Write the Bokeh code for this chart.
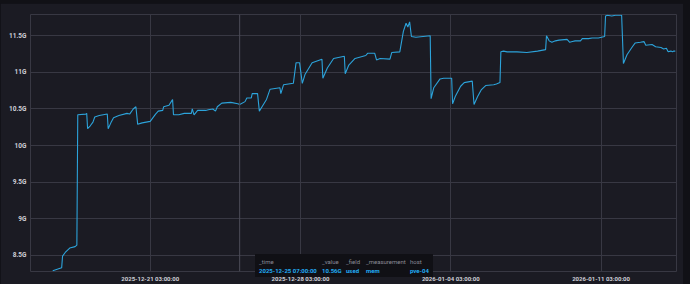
import pandas as pd
from bokeh.plotting import figure
from bokeh.models import (FixedTicker, CustomJSTickFormatter, DatetimeTickFormatter,
                          Span, Range1d, Div)
from bokeh.layouts import column
from bokeh.embed import file_html
from bokeh.resources import INLINE

times = [
    "2025-12-16 14:00", "2025-12-16 19:00", "2025-12-17 00:00", "2025-12-17 01:00", "2025-12-17 04:00",
    "2025-12-17 09:00", "2025-12-17 15:00", "2025-12-17 17:00", "2025-12-17 18:00", "2025-12-18 03:00",
    "2025-12-18 04:00", "2025-12-18 05:00", "2025-12-18 08:00", "2025-12-18 11:00", "2025-12-18 13:00",
    "2025-12-18 18:00", "2025-12-19 03:00", "2025-12-19 04:00", "2025-12-19 07:00", "2025-12-19 10:00",
    "2025-12-19 16:00", "2025-12-20 01:00", "2025-12-20 04:00", "2025-12-20 08:00", "2025-12-20 11:00",
    "2025-12-20 13:00", "2025-12-20 18:00", "2025-12-21 03:00", "2025-12-21 09:00", "2025-12-21 12:00",
    "2025-12-21 17:00", "2025-12-21 18:00", "2025-12-22 00:00", "2025-12-22 02:00", "2025-12-22 04:00",
    "2025-12-22 05:00", "2025-12-22 11:00", "2025-12-22 17:00", "2025-12-23 01:00", "2025-12-23 02:00",
    "2025-12-23 04:00", "2025-12-23 08:00", "2025-12-23 17:00", "2025-12-23 20:00", "2025-12-24 01:00",
    "2025-12-24 04:00", "2025-12-24 06:00", "2025-12-24 11:00", "2025-12-24 21:00", "2025-12-25 05:00",
    "2025-12-25 07:00", "2025-12-25 13:00", "2025-12-25 15:00", "2025-12-25 20:00", "2025-12-25 21:00",
    "2025-12-26 03:00", "2025-12-26 05:00", "2025-12-26 08:00", "2025-12-26 13:00", "2025-12-26 17:00",
    "2025-12-27 04:00", "2025-12-27 05:00", "2025-12-27 08:00", "2025-12-27 19:00", "2025-12-27 22:00",
    "2025-12-28 02:00", "2025-12-28 05:00", "2025-12-28 08:00", "2025-12-28 16:00", "2025-12-29 03:00",
    "2025-12-29 04:00", "2025-12-29 09:00", "2025-12-29 16:00", "2025-12-30 04:00", "2025-12-30 05:00",
    "2025-12-30 09:00", "2025-12-30 16:00", "2025-12-31 04:00", "2025-12-31 06:00", "2025-12-31 14:00",
    "2025-12-31 16:00", "2025-12-31 20:00", "2026-01-01 07:00", "2026-01-01 09:00", "2026-01-01 18:00",
    "2026-01-01 22:00", "2026-01-02 01:00", "2026-01-02 03:00", "2026-01-02 05:00", "2026-01-02 07:00",
    "2026-01-02 12:00", "2026-01-03 04:00", "2026-01-03 05:00", "2026-01-03 08:00", "2026-01-03 15:00",
    "2026-01-03 19:00", "2026-01-04 04:00", "2026-01-04 05:00", "2026-01-04 08:00", "2026-01-04 14:00",
    "2026-01-04 18:00", "2026-01-05 03:00", "2026-01-05 05:00", "2026-01-05 09:00", "2026-01-05 13:00",
    "2026-01-05 18:00", "2026-01-06 03:00", "2026-01-06 06:00", "2026-01-06 10:00", "2026-01-06 11:00",
    "2026-01-06 14:00", "2026-01-06 18:00", "2026-01-07 05:00", "2026-01-07 16:00", "2026-01-08 04:00",
    "2026-01-08 13:00", "2026-01-08 14:00", "2026-01-08 17:00", "2026-01-08 20:00", "2026-01-09 00:00",
    "2026-01-09 04:00", "2026-01-09 13:00", "2026-01-09 16:00", "2026-01-09 19:00", "2026-01-09 22:00",
    "2026-01-10 04:00", "2026-01-10 06:00", "2026-01-10 13:00", "2026-01-10 17:00", "2026-01-11 00:00",
    "2026-01-11 07:00", "2026-01-11 08:00", "2026-01-11 10:00", "2026-01-11 15:00", "2026-01-11 19:00",
    "2026-01-12 02:00", "2026-01-12 04:00", "2026-01-12 08:00", "2026-01-12 14:00", "2026-01-12 17:00",
    "2026-01-12 23:00", "2026-01-13 03:00", "2026-01-13 05:00", "2026-01-13 12:00", "2026-01-13 16:00",
    "2026-01-13 22:00", "2026-01-14 01:00", "2026-01-14 04:00", "2026-01-14 06:00", "2026-01-14 09:00",
    "2026-01-14 11:00", "2026-01-14 12:00", "2026-01-14 14:00",
]
used_g = [
    8.29, 8.31, 8.33, 8.49, 8.54, 8.60, 8.62, 8.64, 10.42, 10.43,
    10.44, 10.23, 10.27, 10.32, 10.39, 10.41, 10.43, 10.23, 10.31, 10.38,
    10.41, 10.44, 10.43, 10.50, 10.53, 10.29, 10.31, 10.33, 10.43, 10.47,
    10.48, 10.53, 10.55, 10.59, 10.63, 10.42, 10.42, 10.44, 10.44, 10.50,
    10.42, 10.48, 10.48, 10.49, 10.50, 10.47, 10.53, 10.58, 10.59, 10.57,
    10.56, 10.60, 10.65, 10.65, 10.71, 10.71, 10.47, 10.53, 10.63, 10.77,
    10.79, 10.71, 10.83, 10.85, 11.13, 11.13, 10.85, 10.97, 11.13, 11.18,
    10.92, 11.06, 11.19, 11.22, 10.98, 11.10, 11.19, 11.23, 11.26, 11.26,
    11.17, 11.19, 11.18, 11.27, 11.28, 11.56, 11.67, 11.62, 11.69, 11.49,
    11.48, 11.50, 10.64, 10.79, 10.91, 10.92, 10.92, 10.57, 10.67, 10.81,
    10.86, 10.88, 10.56, 10.67, 10.76, 10.82, 10.83, 10.84, 10.86, 11.28,
    11.29, 11.28, 11.28, 11.27, 11.29, 11.31, 11.50, 11.43, 11.41, 11.43,
    11.44, 11.45, 11.41, 11.42, 11.43, 11.43, 11.46, 11.46, 11.47, 11.47,
    11.49, 11.77, 11.78, 11.77, 11.78, 11.78, 11.12, 11.24, 11.35, 11.40,
    11.41, 11.42, 11.37, 11.38, 11.35, 11.34, 11.32, 11.33, 11.28, 11.29,
    11.28, 11.29, 11.29,
]

x_tick_times = ["2025-12-21 03:00:00", "2025-12-28 03:00:00", "2026-01-04 03:00:00", "2026-01-11 03:00:00"]
y_ticks = [8.5, 9.0, 9.5, 10.0, 10.5, 11.0, 11.5]
x_start, x_end = "2025-12-15 13:10", "2026-01-14 15:20"
y_start, y_end = 8.28, 11.79

hover_time = "2025-12-25 07:00:00"
tooltip_headers = ["_time", "_value", "_field", "_measurement", "host"]
tooltip_values = ["2025-12-25 07:00:00", "10.56G", "used", "mem", "pve-04"]


def ms(s):
    return pd.Timestamp(s).value / 1e6


xs = pd.to_datetime(times)

PANEL = "#1b1b23"
GRID = "#383843"

p = figure(width=683, height=281, x_axis_type="datetime",
           x_range=Range1d(ms(x_start), ms(x_end)), y_range=Range1d(y_start, y_end),
           output_backend="svg", toolbar_location=None,
           min_border_left=30, min_border_right=7, min_border_top=11, min_border_bottom=9)
p.margin = (3, 7, 0, 0)
p.background_fill_color = PANEL
p.border_fill_color = PANEL
p.outline_line_color = GRID
p.outline_line_width = 1

p.line(x=xs, y=used_g, line_color="#2ca3da", line_width=1.1)

p.xaxis.ticker = FixedTicker(ticks=[ms(t) for t in x_tick_times])
p.xaxis.formatter = DatetimeTickFormatter(
    **{k: "%Y-%m-%d %H:%M:%S" for k in ["milliseconds", "seconds", "minsec", "minutes",
                                       "hourmin", "hours", "days", "months", "years"]})
p.yaxis.ticker = FixedTicker(ticks=y_ticks)
p.yaxis.formatter = CustomJSTickFormatter(code="return (Math.round(tick*10)/10).toString() + 'G'")

for ax in (p.xaxis[0], p.yaxis[0]):
    ax.axis_line_color = None
    ax.major_tick_line_color = None
    ax.minor_tick_line_color = None
    ax.major_tick_out = 0
    ax.major_tick_in = 0
    ax.minor_tick_out = 0
    ax.minor_tick_in = 0
    ax.major_label_text_color = "#d0d0d8"
    ax.major_label_text_font = "Roboto"
    ax.major_label_text_font_style = "bold"
p.xaxis.major_label_text_font_size = "6px"
p.yaxis.major_label_text_font_size = "6.5px"
p.xaxis.major_label_standoff = 3
p.yaxis.major_label_standoff = 4

p.xgrid.grid_line_color = GRID
p.ygrid.grid_line_color = GRID

p.add_layout(Span(location=ms(hover_time), dimension="height", line_color="#4c4c58", line_width=1))

# hover tooltip (static)
col_left = [4, 67, 91, 111, 155]
spans = []
for cx, h, v in zip(col_left, tooltip_headers, tooltip_values):
    spans.append(f'<span style="position:absolute;left:{cx}px;top:4px;color:#8a8a96;">{h}</span>')
    spans.append(f'<span style="position:absolute;left:{cx}px;top:13px;color:#22adf6;font-weight:bold;">{v}</span>')
tooltip_html = (
    '<div style="position:relative;width:178px;height:23px;background:#101015;'
    'font-family:Roboto;font-size:6px;line-height:7px;white-space:nowrap;">'
    + "".join(spans) + "</div>"
)
tooltip = Div(text=tooltip_html, width=178, height=23, margin=(0, 0, 0, 0),
              styles={"position": "absolute", "left": "255px", "top": "254px", "z-index": "10"})

layout = column(p, tooltip, width=690, height=284,
                styles={"background-color": "#111116", "position": "relative"})

open("out.html", "w").write(file_html(layout, INLINE))
